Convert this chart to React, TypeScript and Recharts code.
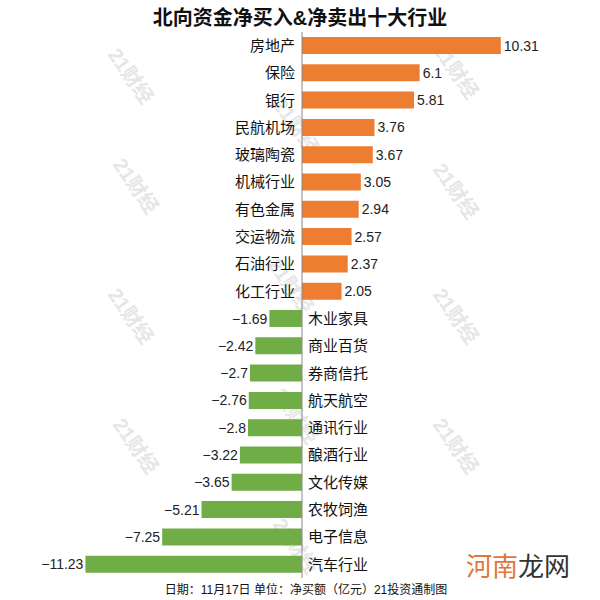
import React from 'react';
import { BarChart, Bar, XAxis, YAxis, Cell, LabelList, ReferenceLine } from 'recharts';

const categories = [
  '房地产', '保险', '银行', '民航机场', '玻璃陶瓷', '机械行业', '有色金属', '交运物流', '石油行业', '化工行业',
  '木业家具', '商业百货', '券商信托', '航天航空', '通讯行业', '酿酒行业', '文化传媒', '农牧饲渔', '电子信息', '汽车行业',
];
const values = [
  10.31, 6.1, 5.81, 3.76, 3.67, 3.05, 2.94, 2.57, 2.37, 2.05,
  -1.69, -2.42, -2.7, -2.76, -2.8, -3.22, -3.65, -5.21, -7.25, -11.23,
];

const title = '北向资金净买入&净卖出十大行业';
const footnote = '日期：11月17日 单位：净买额（亿元）21投资通制图';

const data = categories.map((name, i) => ({ name, value: values[i] }));

const CJK = '"Liberation Sans", Arial, "Noto Sans CJK SC", sans-serif';
const POS = '#ED7D31';
const NEG = '#70AD47';

const watermarks = [
  [125, 80], [290, 130], [450, 75], [130, 190], [450, 195], [285, 290],
  [125, 320], [450, 320], [130, 450], [290, 420], [450, 450], [290, 550],
];

function NameLabel(props: any) {
  const { x, y, width, height, value, index } = props;
  const v = values[index];
  const left = Math.min(x, x + width);
  const right = Math.max(x, x + width);
  const cy = y + height / 2;
  if (v >= 0) {
    return (
      <text x={left - 7} y={cy} dy="0.36em" textAnchor="end" fontSize={15} fill="#111" fontFamily={CJK}>
        {value}
      </text>
    );
  }
  return (
    <text x={right + 6} y={cy} dy="0.36em" textAnchor="start" fontSize={15} fill="#111" fontFamily={CJK}>
      {value}
    </text>
  );
}

function ValueLabel(props: any) {
  const { x, y, width, height, value } = props;
  const left = Math.min(x, x + width);
  const right = Math.max(x, x + width);
  const cy = y + height / 2;
  const text = value < 0 ? '\u2212' + String(Math.abs(value)) : String(value);
  if (value >= 0) {
    return (
      <text x={right + 3} y={cy} dy="0.36em" textAnchor="start" fontSize={14} fill="#222" fontFamily={CJK}>
        {text}
      </text>
    );
  }
  return (
    <text x={left - 2} y={cy} dy="0.36em" textAnchor="end" fontSize={14} fill="#222" fontFamily={CJK}>
      {text}
    </text>
  );
}

export default function App() {
  return (
    <div style={{ position: 'absolute', left: 0, top: 0, width: 600, height: 600, background: '#fff', fontFamily: CJK }}>
      <div style={{ position: 'absolute', top: 2, left: 0, width: 600, textAlign: 'center', fontSize: 20, fontWeight: 'bold', color: '#111' }}>
        {title}
      </div>
      <svg width={600} height={600} style={{ position: 'absolute', left: 0, top: 0 }}>
        {watermarks.map(([wx, wy], i) => (
          <text key={i} x={wx} y={wy} transform={`rotate(55 ${wx} ${wy})`} textAnchor="middle" fontSize={20} fontWeight="bold" fill="#e6e6e6" fontFamily={CJK}>
            21财经
          </text>
        ))}
      </svg>
      <div style={{ position: 'absolute', left: 0, top: 0 }}>
        <BarChart width={600} height={600} data={data} layout="vertical" margin={{ top: 32, right: 28, left: 32, bottom: 22 }}>
          <XAxis type="number" domain={[-14, 14]} hide />
          <YAxis type="category" dataKey="name" hide />
          <Bar dataKey="value" barSize={17} isAnimationActive={false}>
            {data.map((d, i) => (
              <Cell key={i} fill={d.value >= 0 ? POS : NEG} />
            ))}
            <LabelList dataKey="name" content={NameLabel} />
            <LabelList dataKey="value" content={ValueLabel} />
          </Bar>
          <ReferenceLine x={0} stroke="#888" strokeWidth={1} />
        </BarChart>
      </div>
      <div style={{ position: 'absolute', top: 580, left: 0, width: 612, textAlign: 'center', fontSize: 12, color: '#111' }}>
        {footnote}
      </div>
      <div style={{ position: 'absolute', top: 546, left: 466, fontSize: 26, letterSpacing: 0 }}>
        <span style={{ color: '#E2763A' }}>河南</span>
        <span style={{ color: '#333' }}>龙网</span>
      </div>
    </div>
  );
}
